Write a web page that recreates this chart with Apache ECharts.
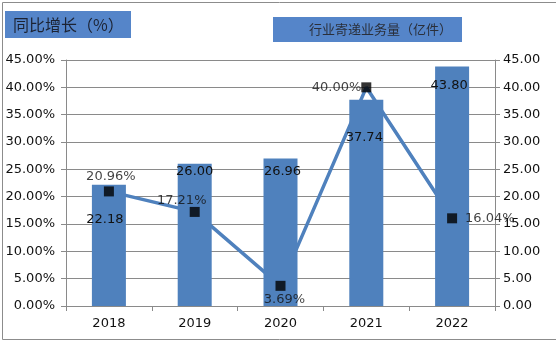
<!DOCTYPE html>
<html>
<head>
<meta charset="utf-8">
<script src="https://cdn.jsdelivr.net/npm/echarts@6/dist/echarts.min.js"></script>
<style>
  html, body { margin: 0; padding: 0; background: #fff; }
  #chart { width: 556px; height: 340px; }
</style>
</head>
<body>
<div id="chart"></div>
<script>
// Express volume (100 million items) and year-on-year growth, 2018–2022
const years = ['2018', '2019', '2020', '2021', '2022'];
const volume = [22.18, 26.00, 26.96, 37.74, 43.80];
const growth = [20.96, 17.21, 3.69, 40.00, 16.04];

// label placement tweaks per year (bar labels, then growth labels)
const volumeLabelOffsets = [[-4, 23], [0, -4], [2, 2], [-2, 26], [-3, 8]];
const growthLabelPlacement = [
  { position: 'top', distance: 3, offset: [2, 0] },
  { position: 'top', distance: 3, offset: [-13, 3] },
  { position: 'bottom', distance: 2, offset: [4, 0] },
  { position: 'left', distance: 0, offset: [0, 0] },
  { position: 'right', distance: 8, offset: [0, 0] }
];

const blue = '#4f81bd';
const gridGray = '#8a8a8a';
const numFont = 'DejaVu Sans';
const cjkFont = 'Noto Sans CJK SC';

// header text with full-width brackets centred in their own em box
function header(mainText, unitText, size, color) {
  const base = { fontFamily: cjkFont, fontSize: size, fill: color };
  const bracket = Object.assign({}, base, { width: size, align: 'center' });
  return {
    text: '{t|' + mainText + '}{p|（}{t|' + unitText + '}{p|）}',
    rich: { t: base, p: bracket },
    verticalAlign: 'middle'
  };
}

const chart = echarts.init(document.getElementById('chart'), null, { renderer: 'canvas' });

chart.setOption({
  animation: false,
  backgroundColor: '#fff',
  grid: { left: 66, right: 61, top: 60, bottom: 34, containLabel: false },
  xAxis: {
    type: 'category',
    data: years,
    axisLine: { lineStyle: { color: gridGray, width: 1 } },
    axisTick: { show: true, length: 5, lineStyle: { color: gridGray } },
    axisLabel: { color: '#111', fontFamily: numFont, fontSize: 13, margin: 11 }
  },
  yAxis: [
    {
      type: 'value', min: 0, max: 45, interval: 5,
      axisLine: { show: true, lineStyle: { color: gridGray } },
      axisTick: { show: true, length: 5, lineStyle: { color: gridGray } },
      splitLine: { lineStyle: { color: gridGray, width: 1 } },
      axisLabel: {
        color: '#111', fontFamily: numFont, fontSize: 13, margin: 11,
        formatter: v => v.toFixed(2) + '%'
      }
    },
    {
      type: 'value', min: 0, max: 45, interval: 5, position: 'right',
      axisLine: { show: true, lineStyle: { color: gridGray } },
      axisTick: { show: true, length: 5, lineStyle: { color: gridGray } },
      splitLine: { show: false },
      axisLabel: {
        color: '#111', fontFamily: numFont, fontSize: 13, margin: 8,
        formatter: v => v.toFixed(2)
      }
    }
  ],
  series: [
    {
      name: '同比增长',
      type: 'line',
      yAxisIndex: 0,
      data: growth,
      z: 1,
      symbol: 'none',
      lineStyle: { color: blue, width: 3.5 },
      itemStyle: { color: blue }
    },
    {
      name: '行业寄递业务量',
      type: 'bar',
      yAxisIndex: 1,
      barWidth: 34,
      z: 2,
      itemStyle: { color: blue },
      data: volume.map((v, i) => ({
        value: v,
        label: {
          show: true,
          position: 'insideTop',
          offset: volumeLabelOffsets[i],
          color: '#111',
          fontFamily: numFont,
          fontSize: 13,
          formatter: p => p.value.toFixed(2)
        }
      }))
    },
    {
      name: '同比增长点',
      type: 'scatter',
      yAxisIndex: 0,
      z: 3,
      symbol: 'rect',
      symbolSize: 10,
      itemStyle: { color: '#000' },
      data: growth.map((v, i) => ({
        value: [years[i], v],
        label: Object.assign({
          show: true,
          color: '#111',
          fontFamily: numFont,
          fontSize: 13,
          formatter: p => p.value[1].toFixed(2) + '%'
        }, growthLabelPlacement[i])
      }))
    }
  ],
  graphic: [
    {
      type: 'rect', left: 0, top: 0, z: 0,
      shape: { x: 0.5, y: 0.5, width: 554, height: 337 },
      style: { fill: 'none', stroke: '#8c8c8c', lineWidth: 1 }
    },
    {
      type: 'group', left: 5, top: 11, z: 10,
      children: [
        { type: 'rect', shape: { x: 0, y: 0, width: 126, height: 27 }, style: { fill: '#5585c9' } },
        { type: 'text', x: 8, y: 13.5, style: header('同比增长', '%', 16, '#1c2333') }
      ]
    },
    {
      type: 'group', left: 273, top: 17, z: 10,
      children: [
        { type: 'rect', shape: { x: 0, y: 0, width: 189, height: 25 }, style: { fill: '#5585c9' } },
        { type: 'text', x: 36, y: 12.5, style: header('行业寄递业务量', '亿件', 13, '#2a2f3a') }
      ]
    }
  ]
});
</script>
</body>
</html>
